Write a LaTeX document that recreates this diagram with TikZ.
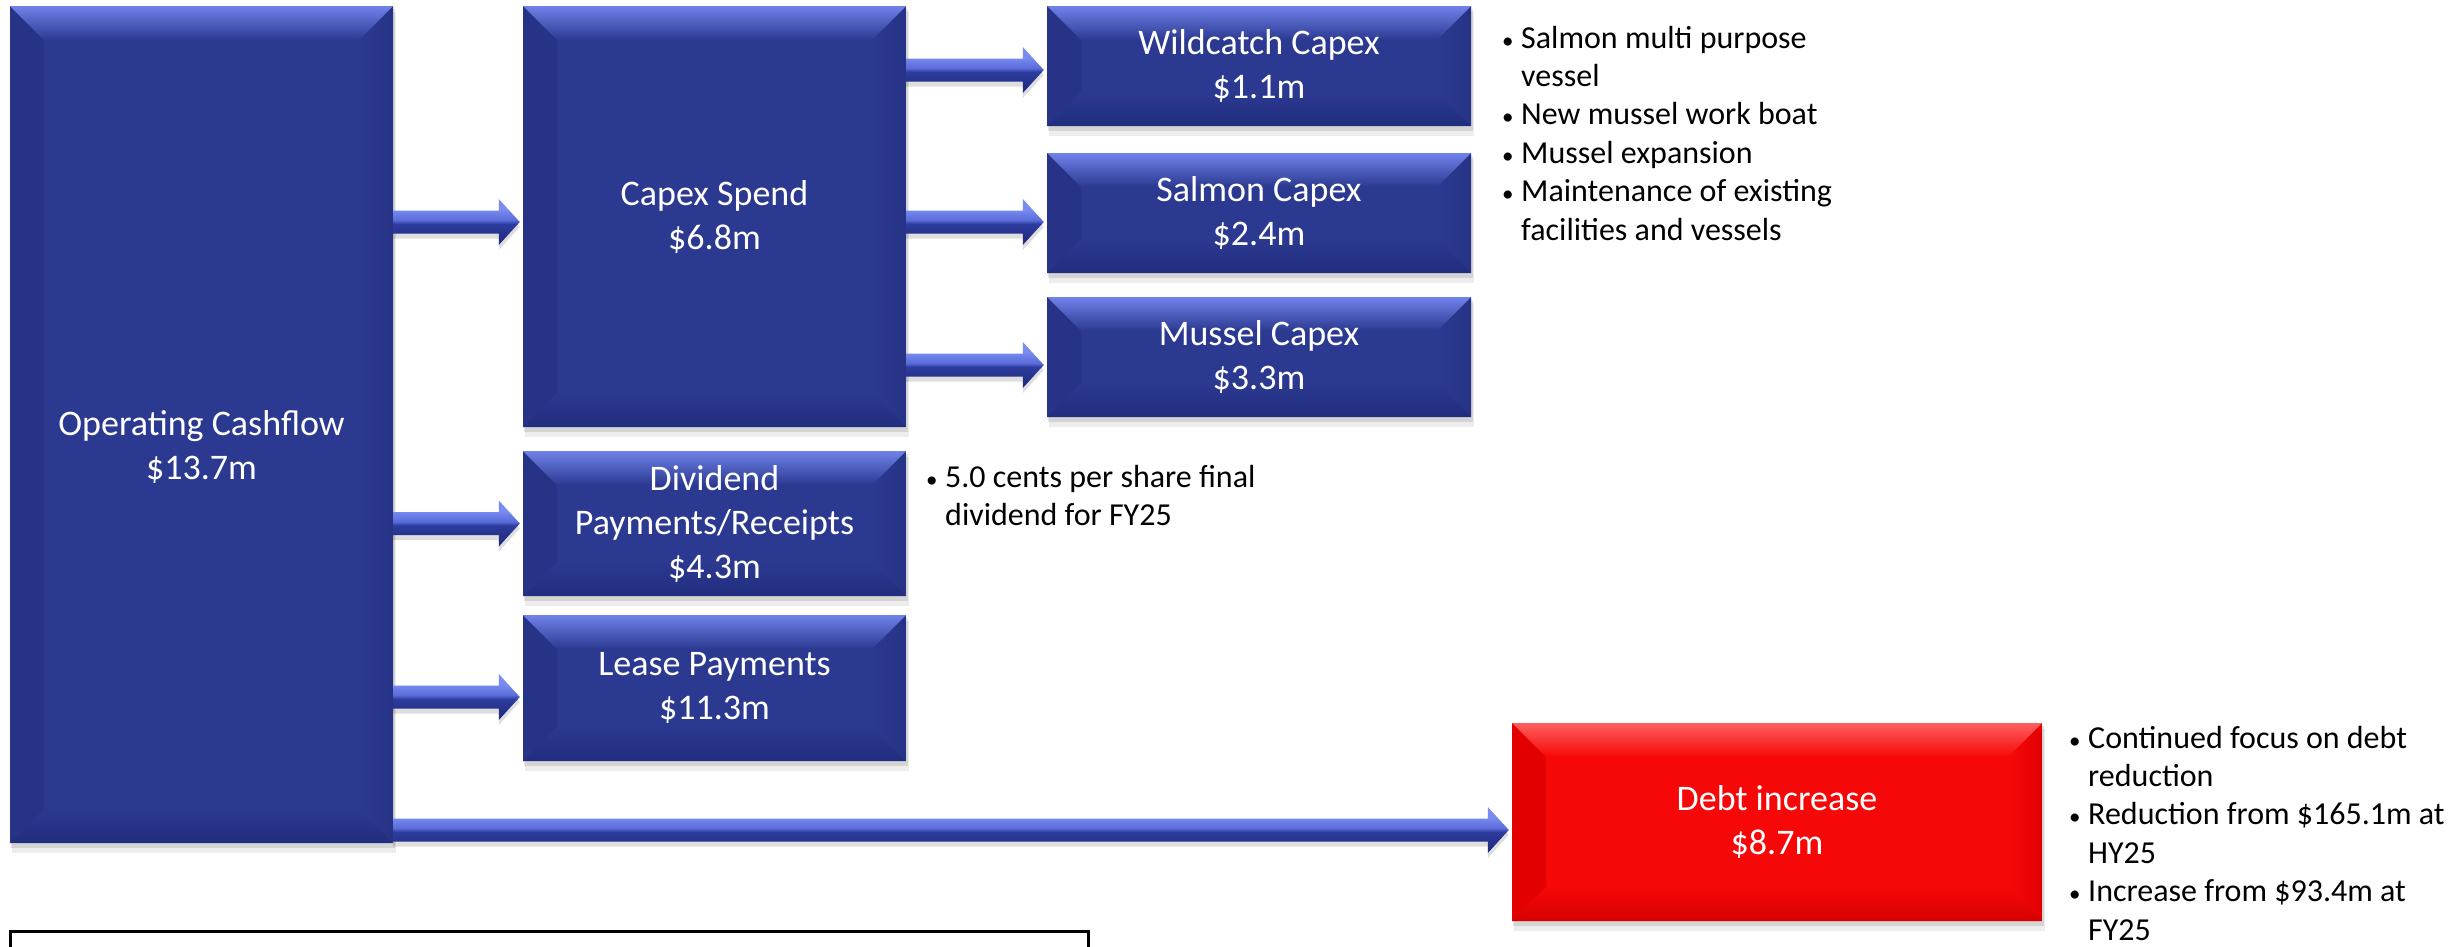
\documentclass[tikz,border=0pt]{standalone}
\usepackage{fontspec}
\setmainfont{Carlito}
\usetikzlibrary{calc}
\definecolor{bbase}{RGB}{43,57,144}
\definecolor{blight}{RGB}{112,130,234}
\definecolor{bdark}{RGB}{33,45,126}
\definecolor{bside}{RGB}{38,51,134}
\definecolor{rbase}{RGB}{246,8,8}
\definecolor{rlight}{RGB}{255,95,95}
\definecolor{rdark}{RGB}{214,0,0}
\definecolor{rside}{RGB}{226,0,0}
\definecolor{adk}{RGB}{33,44,130}
\definecolor{amid}{RGB}{45,60,158}
\definecolor{alt}{RGB}{88,108,218}
\definecolor{altt}{RGB}{122,140,240}
\pgfdeclareverticalshading{arrowsh}{100bp}{color(0bp)=(adk); color(30bp)=(adk); color(48bp)=(amid); color(52bp)=(alt); color(64bp)=(altt); color(100bp)=(altt)}
\newcommand\boxfont{\fontsize{36}{44}\selectfont}
\newcommand\listfont{\fontsize{32}{38.4}\selectfont}
\newcommand\mybul{\makebox[19pt][l]{\fontsize{23}{23}\selectfont •}}
\newcommand\myind{\hspace*{19pt}}
\tikzset{
  bevel/.style n args={4}{fill=#1, path picture={
    \shade[left color=#4, right color=#1]
      (path picture bounding box.north west) -- (path picture bounding box.south west)
      -- ([shift={(34pt,34pt)}]path picture bounding box.south west)
      -- ([shift={(34pt,-34pt)}]path picture bounding box.north west) -- cycle;
    \shade[left color=#1, right color=#4]
      (path picture bounding box.north east) -- (path picture bounding box.south east)
      -- ([shift={(-34pt,34pt)}]path picture bounding box.south east)
      -- ([shift={(-34pt,-34pt)}]path picture bounding box.north east) -- cycle;
    \shade[top color=#1, bottom color=#3]
      (path picture bounding box.south west) -- (path picture bounding box.south east)
      -- ([shift={(-34pt,34pt)}]path picture bounding box.south east)
      -- ([shift={(34pt,34pt)}]path picture bounding box.south west) -- cycle;
    \shade[top color=#2, bottom color=#1]
      (path picture bounding box.north west) -- (path picture bounding box.north east)
      -- ([shift={(-34pt,-34pt)}]path picture bounding box.north east)
      -- ([shift={(34pt,-34pt)}]path picture bounding box.north west) -- cycle;
  }},
  bluebox/.style={rectangle, inner sep=0pt, bevel={bbase}{blight}{bdark}{bside}, text=white, align=center, font=\boxfont},
  redbox/.style={rectangle, inner sep=0pt, bevel={rbase}{rlight}{rdark}{rside}, text=white, align=center, font=\boxfont},
  listnode/.style={anchor=north west, inner sep=0pt, align=left, text=black, font=\listfont},
  boxtext/.style={inner sep=0pt, align=center, text=white, font=\boxfont},
  frameline/.style={draw=black, line width=3pt}
}
% name, style, x1, y1, x2, y2, text
\newcommand\cfbox[7]{%
  \fill[black,opacity=.10] ({#3+1},{#4+3}) rectangle ({#5+2},{#6+5});
  \fill[black,opacity=.07] ({#3+2},{#4+6}) rectangle ({#5+3},{#6+10});
  \node[#2, minimum width={(#5-#3)*1pt}, minimum height={(#6-#4)*1pt}] (#1) at ({(#3+#5)/2},{(#4+#6)/2}) {#7};
}
% source node, target node, vertical shift of arrow axis
\newcommand\cfarrow[3]{%
  \fill[black,opacity=.13] let \p1=(#1.east), \p2=([xshift=-3pt,yshift=#3]#2.west) in
    ({\x1},{\y2+11.5pt-5pt}) -- ({\x2-21pt},{\y2+11.5pt-5pt}) -- ({\x2-21pt},{\y2+23pt-5pt})
    -- ({\x2},{\y2-5pt}) -- ({\x2-21pt},{\y2-23pt-5pt}) -- ({\x2-21pt},{\y2-11.5pt-5pt})
    -- ({\x1},{\y2-11.5pt-5pt}) -- cycle;
  \shade[shading=arrowsh] let \p1=(#1.east), \p2=([xshift=-3pt,yshift=#3]#2.west) in
    ({\x1},{\y2+11.5pt}) -- ({\x2-21pt},{\y2+11.5pt}) -- ({\x2-21pt},{\y2+23pt})
    -- ({\x2},{\y2}) -- ({\x2-21pt},{\y2-23pt}) -- ({\x2-21pt},{\y2-11.5pt})
    -- ({\x1},{\y2-11.5pt}) -- cycle;
}
\begin{document}
\begin{tikzpicture}[x=1pt,y=-1pt]
\fill[white] (0,0) rectangle (2463,946);
\useasboundingbox (0,0) rectangle (2463,946);

\cfbox{op}{bluebox}{10}{6}{393}{843}{}
\node[boxtext] (optext) at (201.5,447) {Operating Cashflow\\\$13.7m};

\cfbox{capex}{bluebox}{523}{6}{906}{427}{Capex Spend\\\$6.8m}
\cfbox{wild}{bluebox}{1047}{6}{1471}{126}{Wildcatch Capex\\\$1.1m}
\cfbox{salmon}{bluebox}{1047}{153}{1471}{273}{Salmon Capex\\\$2.4m}
\cfbox{mussel}{bluebox}{1047}{297}{1471}{417}{Mussel Capex\\\$3.3m}
\cfbox{div}{bluebox}{523}{451}{906}{596}{Dividend\\Payments/Receipts\\\$4.3m}
\cfbox{lease}{bluebox}{523}{615}{906}{761}{Lease Payments\\\$11.3m}
\cfbox{debt}{redbox}{1512}{723}{2042}{921}{Debt increase\\\$8.7m}

\cfarrow{op}{capex}{-5.5pt}
\cfarrow{capex}{wild}{-4pt}
\cfarrow{capex}{salmon}{-9pt}
\cfarrow{capex}{mussel}{-8pt}
\cfarrow{op}{div}{0pt}
\cfarrow{op}{lease}{-9pt}
\cfarrow{op}{debt}{-8pt}

\node[listnode] (capexnotes) at (1502,21.1) {\strut\mybul Salmon multi purpose\\\myind vessel\\\mybul New mussel work boat\\\mybul Mussel expansion\\\mybul Maintenance of existing\\\myind facilities and vessels};
\node[listnode] (divnotes) at (926,460.1) {\strut\mybul 5.0 cents per share final\\\myind dividend for FY25};
\node[listnode] (debtnotes) at (2069,721.1) {\strut\mybul Continued focus on debt\\\myind reduction\\\mybul Reduction from \$165.1m at\\\myind HY25\\\mybul Increase from \$93.4m at\\\myind FY25};

\draw[frameline] (10,960) -- (10,931) -- (1088,931) -- (1088,960);
\end{tikzpicture}
\end{document}
